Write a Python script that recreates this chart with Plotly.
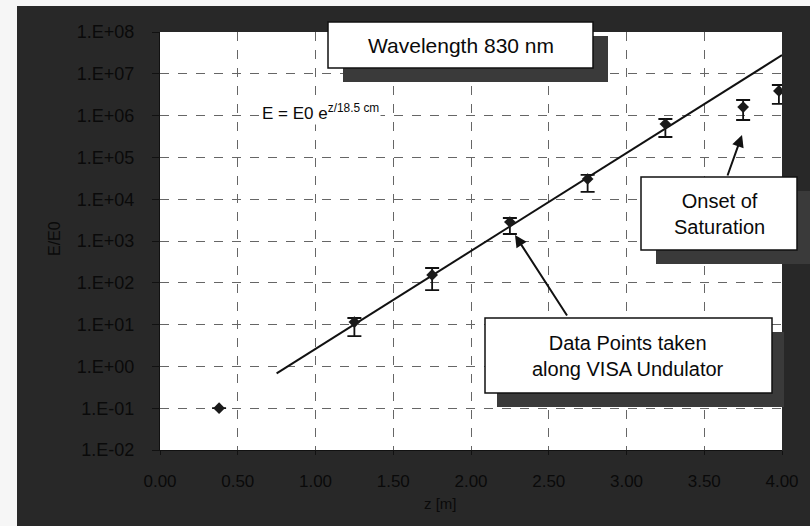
import plotly.graph_objects as go

# ---- data ----
z_points = [0.38, 1.25, 1.75, 2.25, 2.75, 3.25, 3.75, 3.98]
e_points = [0.1, 11.5, 154, 2850, 30400, 630000, 1.6e6, 3.9e6]
err_plus = [0, 2.9, 72, 700, 7600, 200000, 0.76e6, 1.5e6]
err_minus = [0, 6.2, 87, 1380, 15500, 322000, 0.815e6, 2.0e6]

fit_z = [0.75, 4.0]
fit_e = [0.68, 2.8e7]

y_tickvals = [1e-2, 1e-1, 1e0, 1e1, 1e2, 1e3, 1e4, 1e5, 1e6, 1e7, 1e8]
y_ticktext = ["1.E-02", "1.E-01", "1.E+00", "1.E+01", "1.E+02", "1.E+03",
              "1.E+04", "1.E+05", "1.E+06", "1.E+07", "1.E+08"]
x_tickvals = [0, 0.5, 1.0, 1.5, 2.0, 2.5, 3.0, 3.5, 4.0]
x_ticktext = ["0.00", "0.50", "1.00", "1.50", "2.00", "2.50", "3.00", "3.50", "4.00"]

W, H = 810, 526
L, R, T, B = 160, 782, 32, 450


def px(x):
    return (x - L) / (R - L)


def py(y):
    return (B - y) / (B - T)


DARK = "#282828"
SHADOW = "#3a3a3a"
FONT = "Liberation Sans, Arial, sans-serif"
TXT = "#0a0a0a"

fig = go.Figure()

fig.add_trace(go.Scatter(
    x=fit_z, y=fit_e, mode="lines",
    line=dict(color="#111111", width=2), showlegend=False, hoverinfo="skip"))

fig.add_trace(go.Scatter(
    x=z_points, y=e_points, mode="markers",
    marker=dict(symbol="diamond", size=9, color="#1a1a1a"),
    error_y=dict(type="data", symmetric=False, array=err_plus,
                 arrayminus=err_minus, color="#111111", thickness=1.8, width=7),
    showlegend=False))

shapes = []
# white margin strips (scan border)
shapes.append(dict(type="rect", xref="paper", yref="paper",
                   x0=px(0), x1=px(17), y0=py(H), y1=py(0),
                   fillcolor="#f6f6f6", line=dict(width=0), layer="above"))
shapes.append(dict(type="rect", xref="paper", yref="paper",
                   x0=px(0), x1=px(W), y0=py(6), y1=py(0),
                   fillcolor="#f6f6f6", line=dict(width=0), layer="above"))


def box(x0, y0, x1, y1, dx, dy):
    shapes.append(dict(type="rect", xref="paper", yref="paper",
                       x0=px(x0 + dx), x1=px(x1 + dx), y0=py(y1 + dy), y1=py(y0 + dy),
                       fillcolor=SHADOW, line=dict(width=0), layer="above"))
    shapes.append(dict(type="rect", xref="paper", yref="paper",
                       x0=px(x0), x1=px(x1), y0=py(y1), y1=py(y0),
                       fillcolor="white", line=dict(color="#111111", width=1.5),
                       layer="above"))


box(328, 22, 593, 68, 15, 14)
box(641, 177, 797, 250, 15, 14)
box(485, 318, 772, 393, 12, 14)


def label(text, x, y, size, **kw):
    d = dict(text=text, xref="paper", yref="paper", x=px(x), y=py(y),
             xanchor="center", yanchor="middle", showarrow=False,
             font=dict(family=FONT, size=size, color=TXT))
    d.update(kw)
    return d


annotations = [
    label("Wavelength 830 nm", 461, 45, 21),
    label("Onset of<br>Saturation", 719, 214, 20),
    label("Data Points taken<br>along VISA Undulator", 628, 356, 20),
    label("E = E0 e<sup>z/18.5 cm</sup>", 260, 112, 17, xanchor="left",
          bgcolor="white", borderpad=1),
    label("z [m]", 440, 503, 15),
    label("E/E0", 54, 239, 16, textangle=-90),
    # arrows
    dict(text="", xref="paper", yref="paper", x=px(742), y=py(135),
         ax=727 - 742, ay=177 - 135, showarrow=True, arrowhead=2,
         arrowsize=1.2, arrowwidth=2, arrowcolor="#111111"),
    dict(text="", xref="paper", yref="paper", x=px(515), y=py(235),
         ax=568 - 515, ay=317 - 235, showarrow=True, arrowhead=2,
         arrowsize=1.2, arrowwidth=2, arrowcolor="#111111"),
]

fig.update_layout(
    width=W, height=H,
    margin=dict(l=L, r=W - R, t=T, b=H - B),
    paper_bgcolor=DARK, plot_bgcolor="white",
    shapes=shapes, annotations=annotations,
    font=dict(family=FONT, size=16, color=TXT),
    showlegend=False,
)

fig.update_xaxes(
    range=[0, 4], tickvals=x_tickvals, ticktext=x_ticktext,
    showgrid=True, gridcolor="#666666", griddash="dash", gridwidth=1,
    showline=True, linecolor="#111111", linewidth=1,
    ticks="outside", ticklen=4, tickcolor="#111111", ticklabelstandoff=12,
    tickfont=dict(family=FONT, size=17, color=TXT), zeroline=False)

fig.update_yaxes(
    type="log", range=[-2, 8], tickvals=y_tickvals, ticktext=y_ticktext,
    showgrid=True, gridcolor="#666666", griddash="dash", gridwidth=1,
    showline=True, linecolor="#111111", linewidth=1,
    ticks="outside", ticklen=7, tickcolor="#111111", ticklabelstandoff=14,
    tickfont=dict(family=FONT, size=18, color=TXT), zeroline=False)

fig.write_html("out.html", config={"displayModeBar": False},
               post_script="document.body.style.margin='0px';")
